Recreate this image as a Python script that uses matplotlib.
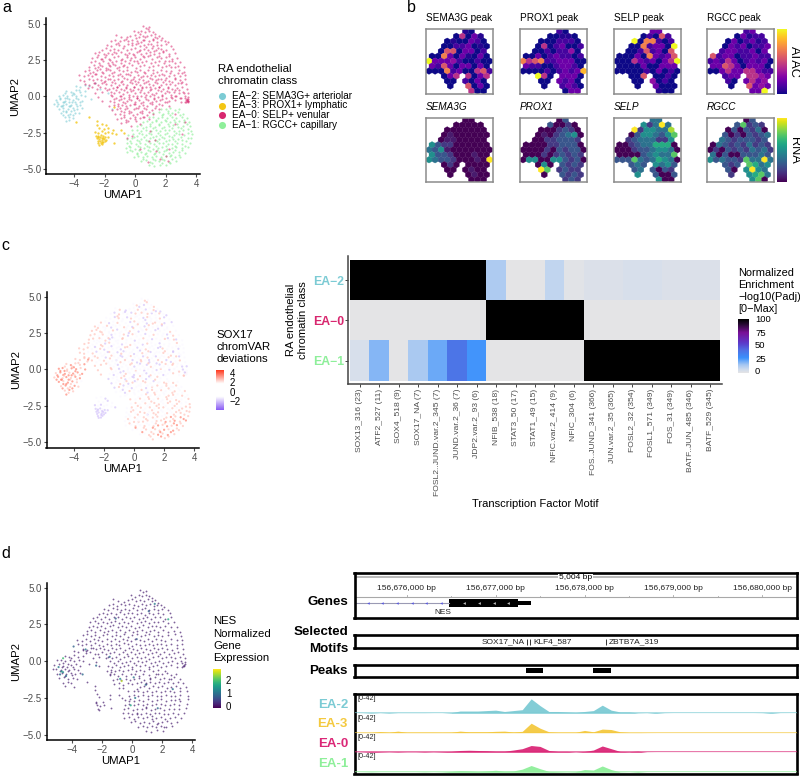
import numpy as np
import matplotlib
matplotlib.use('Agg')
import matplotlib.pyplot as plt
from matplotlib.collections import PolyCollection
from matplotlib.colors import LinearSegmentedColormap, PowerNorm
from matplotlib.patches import Rectangle

plt.rcParams['font.family'] = ['Liberation Sans', 'DejaVu Sans']

W, H = 800, 776

# class colours
c_ea2 = '#7ccbd4'
c_ea3 = '#f3c614'
c_ea0 = '#d8276f'
c_ea1 = '#8eef9a'

# umap points, estimated by eye, row by row
ea0_x = [.5,.72,.92, -.05,.18,.42,.66,.9,1.15,1.32,
 -1.25,-.95,-.55,-.3,-.02,.25,.5,.78,1.05,1.3,1.55,1.75,
 -1.55,-1.3,-1.0,-.72,-.45,-.18,.1,.38,.62,.9,1.18,1.42,1.68,1.95,2.15,
 -1.85,-1.58,-1.28,-1.02,-.75,-.46,-.2,.08,.35,.62,.88,1.15,1.45,1.72,2.0,2.35,
 -2.2,-1.92,-1.66,-1.38,-1.1,-.8,-.55,-.25,.02,.3,.6,.85,1.12,1.4,1.7,2.02,2.5,
 -2.6,-2.34,-2.05,-1.8,-1.52,-1.22,-.95,-.66,-.4,-.12,.15,.42,.7,.98,1.25,1.55,1.85,2.2,2.6,
 -2.8,-2.5,-2.25,-1.95,-1.68,-1.4,-1.12,-.85,-.55,-.28,0.0,.3,.58,.82,1.12,1.42,1.72,2.02,2.4,2.78,
 -2.9,-2.62,-2.35,-2.08,-1.78,-1.5,-1.25,-.95,-.68,-.4,-.1,.18,.45,.75,1.02,1.3,1.58,1.88,2.2,2.6,2.98,
 -3.0,-2.72,-2.45,-2.15,-1.9,-1.62,-1.32,-1.05,-.78,-.5,-.2,.05,.35,.62,.9,1.2,1.48,1.75,2.05,2.35,2.8,3.2,
 -3.3,-3.02,-2.75,-2.48,-2.2,-1.92,-1.65,-1.35,-1.08,-.8,-.52,-.25,.02,.3,.58,.88,1.15,1.42,1.7,2.0,2.35,2.85,3.22,
 -3.65,-3.35,-3.08,-2.8,-2.55,-2.25,-1.98,-1.7,-1.42,-1.15,-.88,-.6,-.32,-.05,.22,.5,.78,1.05,1.32,1.6,1.9,2.2,2.55,2.95,3.3,
 -3.6,-3.32,-3.05,-2.75,-2.5,-2.22,-1.95,-1.65,-1.38,-1.1,-.85,-.55,-.28,0.0,.28,.55,.82,1.1,1.38,1.68,1.95,2.25,2.6,2.98,3.3,
 -3.3,-3.0,-2.72,-2.42,-2.15,-1.88,-1.6,-1.32,-1.05,-.78,-.5,-.22,.05,.32,.6,.9,1.18,1.45,1.72,2.0,2.3,2.65,3.0,3.35,
 -3.1,-2.8,-2.5,-2.0,-1.72,-1.45,-1.18,-.9,-.62,-.35,-.08,.2,.48,.75,1.02,1.3,1.58,1.85,2.15,2.45,2.75,3.05,3.4,
 -2.6,-2.2,-1.6,-1.35,-1.08,-.8,-.52,-.25,.02,.3,.58,.85,1.12,1.4,1.7,1.98,2.25,2.55,2.85,3.15,3.5,3.3,
 -2.4,-1.5,-1.22,-.95,-.7,-.42,-.15,.12,.4,.68,.95,1.22,1.5,1.78,2.05,2.35,2.65,2.95,3.25,3.5,3.42,
 -2.2,-1.62,-1.35,-1.08,-.8,-.55,-.28,0.0,.28,.55,.82,1.1,1.38,1.65,1.95,2.25,2.6,3.0,3.4,3.5,3.32,3.45,
 -1.7,-1.4,-1.12,-.85,-.58,-.3,-.02,.25,.52,.8,1.1,1.4,1.75,2.2,
 -1.5,-1.2,-.92,-.65,-.38,-.1,.18,.45,.75,1.1,1.6,
 -1.3,-1.0,-.72,-.42,-.15,.15,.45,.8,1.2,
 -1.2,-.9,-.6,-.3,0.0,.3,.6,.9,
 -.9,-.6,-.25,.3,
 .9,1.35,.3,2.6,3.1,1.65,-.2,2.15]
ea0_y = [4.85,4.72,4.78, 4.5,4.4,4.52,4.43,4.5,4.42,4.3,
 4.2,4.1,4.05,4.15,4.22,4.1,4.18,4.12,4.2,4.08,4.15,3.98,
 3.82,3.9,3.78,3.88,3.8,3.9,3.84,3.76,3.9,3.82,3.86,3.75,3.85,3.8,3.72,
 3.55,3.48,3.6,3.52,3.46,3.58,3.5,3.6,3.48,3.54,3.6,3.46,3.55,3.5,3.58,3.45,
 3.22,3.3,3.18,3.28,3.2,3.32,3.18,3.26,3.3,3.2,3.28,3.16,3.3,3.22,3.26,3.18,3.25,
 2.95,3.02,2.9,3.0,2.88,2.98,3.04,2.9,3.0,2.92,3.02,2.88,2.96,3.04,2.9,2.98,3.02,2.9,3.0,
 2.65,2.72,2.6,2.7,2.58,2.68,2.74,2.6,2.7,2.62,2.72,2.6,2.68,2.74,2.6,2.7,2.64,2.72,2.58,2.66,
 2.35,2.42,2.3,2.4,2.28,2.38,2.44,2.3,2.4,2.32,2.42,2.28,2.36,2.44,2.3,2.38,2.42,2.3,2.4,2.32,2.36,
 2.05,2.12,2.0,2.1,1.98,2.08,2.14,2.0,2.1,2.02,2.12,1.98,2.06,2.14,2.0,2.08,2.12,2.0,2.1,2.02,2.06,2.0,
 1.75,1.82,1.7,1.8,1.68,1.78,1.84,1.7,1.8,1.72,1.82,1.68,1.76,1.84,1.7,1.78,1.82,1.7,1.8,1.72,1.76,1.82,1.7,
 1.45,1.38,1.5,1.4,1.52,1.42,1.36,1.5,1.4,1.48,1.38,1.52,1.44,1.36,1.5,1.42,1.38,1.5,1.4,1.48,1.44,1.38,1.5,1.42,1.46,
 1.15,1.08,1.2,1.1,1.22,1.12,1.06,1.2,1.1,1.18,1.08,1.22,1.14,1.06,1.2,1.12,1.08,1.2,1.1,1.18,1.14,1.08,1.2,1.12,1.16,
 .85,.78,.9,.8,.92,.82,.76,.9,.8,.88,.78,.92,.84,.76,.9,.82,.78,.9,.8,.88,.84,.78,.9,.82,
 .55,.62,.5,.6,.48,.58,.64,.5,.6,.52,.62,.48,.56,.64,.5,.58,.62,.5,.6,.52,.56,.62,.5,
 .25,.32,.3,.2,.32,.18,.28,.34,.2,.3,.22,.32,.18,.26,.34,.2,.28,.32,.2,.3,.22,-.1,
 -.05,.02,-.1,0.0,-.12,-.02,.04,-.1,0.0,-.08,.02,-.12,-.04,.04,-.1,-.02,.02,-.1,0.0,-.08,-.25,
 -.35,-.3,-.38,-.28,-.4,-.3,-.24,-.38,-.28,-.36,-.26,-.4,-.32,-.24,-.38,-.3,-.26,-.38,-.3,-.22,-.42,-.36,
 -.65,-.6,-.7,-.58,-.68,-.6,-.54,-.68,-.58,-.66,-.56,-.7,-.6,-.66,
 -.95,-.9,-1.0,-.88,-.98,-.9,-.84,-.98,-.88,-.96,-.9,
 -1.25,-1.2,-1.3,-1.18,-1.28,-1.2,-1.14,-1.28,-1.2,
 -1.55,-1.5,-1.6,-1.48,-1.58,-1.5,-1.44,-1.58,
 -1.85,-1.8,-2.05,-1.9,
 -3.1,-3.75,-3.6,-1.2,-2.6,-4.3,-2.7,-4.45]
# deviation digit per point (value minus 2 gives the chromVAR deviation)
ea0_dev = ('232' '2321223' '231223212321' '213221322312321' '2213213221322312'
 '32123221322123211' '3223122321221322122' '33322312232123212232'
 '332321223132212322132' '3322312232212321223212' '33223132212322132212232'
 '3332231222132212322132212' '3323122321322123212232122' '332321322123221321223212'
 '33232213222132122321232' '3322122312213212232212' '332212232122132122123'
 '3212232122132212322' '23212231213212' '32212321322' '322132212' '21322132' '2212' '23212322')

# second pass over the denser parts of the cloud
ea0b_x = [-2.4,-2.15,-1.9,-1.65,-1.45,-1.7,-2.3,-2.65,-2.95,-2.6,-2.3,-2.1,-1.8,-1.5,-1.2,-.95,-.75,-.5,-.35,-.05,.1,.25,.5,.75,.95,1.05,1.25,1.5,1.6,1.85,1.95,2.2,2.25,2.45,2.65,2.8,2.6,2.8,3.05,3.1,2.9,3.2,2.7,3.0,3.35,3.45,3.38,3.3,3.5,
 .05,.35,.65,.85,1.2,1.45,-.2,.2,.5,-.6,-1.1,-1.4,
 -1.0,-.7,-.45,-.15,.1,.4,.65,.95,1.2,1.5,1.75,2.05,2.3,-1.75,-2.05,-1.5,-1.2,-.9,-.6,-.35,-.1,.2,.45,.75,1.0,1.3,1.6,1.85,2.15,2.45,
 -2.3,-2.6,-1.85,-1.55,-1.25,-1.0,-.7,-.4,-.15,.15,.4,.7,.95,1.25,1.5,1.8,2.1,2.35,2.6,
 -1.4,-1.15,-.9,-.65,-.4,-.1,.15,.4,.7,1.0,1.25,1.55,1.8,2.1,2.4,
 -1.0,-.7,-.5,-.25,.05,.3,.6,.9,1.3,0.0,.5,-.45,-.75,.05]
ea0b_y = [2.85,2.55,2.85,2.5,2.2,2.15,2.15,1.95,1.6,1.55,1.9,1.6,1.9,1.6,1.95,2.5,2.15,2.85,2.5,2.85,2.45,3.1,2.75,3.4,2.85,3.6,3.15,3.35,2.8,3.1,2.45,2.8,2.15,2.45,2.05,1.6,1.25,.9,1.6,1.0,.4,.2,.05,-.15,-.28,-.35,-.2,-.42,-.3,
 4.0,4.3,4.05,4.62,3.95,4.0,3.65,3.65,3.9,3.95,3.65,3.05,
 1.55,1.25,1.55,1.2,1.65,1.3,1.6,1.25,1.6,1.2,1.55,1.25,1.6,1.2,.95,.95,.65,.95,.65,.95,.65,.95,.65,.95,.65,.95,.65,.95,.65,.95,
 .65,.9,.4,.1,.4,.05,.4,.1,.42,.05,.4,.08,.42,.1,.42,.12,.38,.1,.4,
 -.2,-.5,-.2,-.45,-.2,-.5,-.15,-.45,-.18,-.48,-.2,-.5,-.18,-.42,-.15,
 -.8,-1.1,-.8,-1.1,-.8,-1.1,-.8,-1.1,-.8,-1.4,-1.4,-1.7,-1.4,-1.7]
ea0b_dev = ('3322133221232122321323212232132212321322212322132'
 '212321223132' '2132212322132123213212321232132'
 '33321223212321232' '322132123212322' '22132123212321')

ea1_x = [1.7,2.0,2.3,2.6,2.9,
 1.2,1.55,1.85,2.15,2.45,2.8,3.15,
 .9,1.2,1.5,1.8,2.1,2.4,2.7,3.05,3.38,
 .5,.8,1.1,1.4,1.7,2.0,2.3,2.6,2.9,3.2,3.55,
 .1,.4,.7,1.0,1.3,1.6,1.9,2.2,2.5,2.8,3.15,3.62,
 -.2,.1,.4,.75,1.05,1.35,1.65,1.95,2.25,2.55,2.85,3.15,3.7,
 -.48,-.15,.15,.45,.75,1.05,1.35,1.65,1.95,2.25,2.55,2.85,3.2,3.72,
 -.5,-.2,.1,.4,.7,1.0,1.3,1.6,1.9,2.2,2.5,2.8,3.1,3.68,
 -.55,-.25,.05,.35,.65,.95,1.25,1.55,1.85,2.15,2.45,2.75,3.1,3.6,
 -.6,-.3,0.0,.3,.6,.9,1.2,1.5,1.8,2.1,2.4,2.7,3.05,3.45,
 -.55,-.2,.1,.4,.7,1.0,1.3,1.6,1.9,2.2,2.5,2.85,3.25,
 -.1,.2,.5,.8,1.1,1.4,1.7,2.0,2.3,2.6,2.98,
 .4,.7,1.0,1.3,1.6,1.9,2.25,2.68,
 .9,1.25,1.65,2.05]
ea1_y = [-.85,-.9,-.82,-.92,-.85,
 -1.15,-1.1,-1.2,-1.12,-1.18,-1.1,-1.2,
 -1.45,-1.4,-1.5,-1.42,-1.48,-1.4,-1.5,-1.44,-1.48,
 -1.75,-1.7,-1.8,-1.72,-1.78,-1.7,-1.8,-1.74,-1.7,-1.8,-1.76,
 -2.05,-2.0,-2.1,-2.02,-2.08,-2.0,-2.1,-2.04,-2.0,-2.1,-2.06,-2.02,
 -2.35,-2.3,-2.4,-2.32,-2.38,-2.3,-2.4,-2.34,-2.3,-2.4,-2.36,-2.32,-2.38,
 -2.65,-2.6,-2.7,-2.62,-2.68,-2.6,-2.7,-2.64,-2.6,-2.7,-2.66,-2.62,-2.68,-2.6,
 -2.95,-2.9,-3.0,-2.92,-2.98,-2.9,-3.0,-2.94,-2.9,-3.0,-2.96,-2.92,-2.98,-2.9,
 -3.25,-3.2,-3.3,-3.22,-3.28,-3.2,-3.3,-3.24,-3.2,-3.3,-3.26,-3.22,-3.28,-3.2,
 -3.55,-3.5,-3.6,-3.52,-3.58,-3.5,-3.6,-3.54,-3.5,-3.6,-3.56,-3.52,-3.58,-3.5,
 -3.85,-3.8,-3.9,-3.82,-3.88,-3.8,-3.9,-3.84,-3.8,-3.9,-3.86,-3.82,-3.88,
 -4.15,-4.1,-4.2,-4.12,-4.18,-4.1,-4.2,-4.14,-4.1,-4.2,-4.16,
 -4.45,-4.4,-4.5,-4.42,-4.48,-4.4,-4.5,-4.44,
 -4.75,-4.8,-4.7,-4.72]
ea1_dev = ('23232' '2323232' '232322323' '23232233232' '232323232323' '2323233232323'
 '23232323323233' '23233233232333' '22323233234343' '22323323343434' '2232323434343' '22232334343' '22334343' '2323')

ea1b_x = [2.15,1.75,2.3,2.95,1.35,1.95,2.55,3.2,.95,1.55,2.15,2.75,3.4,.55,1.15,1.8,2.4,3.0,3.45,.25,.9,1.5,2.1,2.7,3.45,-.05,.6,1.2,1.8,2.4,3.0,3.5,-.35,.25,.85,1.45,2.05,2.65,3.35,-.4,.2,.8,1.4,2.0,2.6,3.3,-.3,.25,.85,1.45,2.05,2.65,3.1,.1,.65,1.25,1.85,2.35,2.85,.55,1.15,1.75,2.45,1.1,1.8,2.3]
ea1b_y = [-.98,-1.3,-1.3,-1.3,-1.6,-1.6,-1.6,-1.6,-1.9,-1.9,-1.9,-1.9,-1.9,-2.2,-2.2,-2.2,-2.2,-2.2,-2.25,-2.5,-2.5,-2.5,-2.5,-2.5,-2.55,-2.8,-2.8,-2.8,-2.8,-2.8,-2.8,-2.85,-3.1,-3.1,-3.1,-3.1,-3.1,-3.1,-3.1,-3.4,-3.4,-3.4,-3.4,-3.4,-3.4,-3.4,-3.7,-3.7,-3.7,-3.7,-3.7,-3.7,-3.7,-4.0,-4.0,-4.0,-4.0,-4.05,-4.05,-4.3,-4.3,-4.3,-4.3,-4.6,-4.6,-4.6]
ea1b_dev = '323232323232223233232323332322332323233323233432233434342234344343'

ea2_x = [-3.9,-3.6,-3.3,-3.05, -4.5,-4.2,-3.9,-3.6,-3.3,
 -5,-4.75,-4.45,-4.15,-3.85,-3.55,-3.25, -5.2,-4.9,-4.6,-4.3,-4.05,-3.75,-3.45,
 -5.3,-5.05,-4.75,-4.5,-4.2,-3.9,-3.6, -5.0,-4.7,-4.4,-4.1,-3.8,-3.5,
 -4.85,-4.55,-4.25,-3.95,-3.7, -4.6,-4.3,-4.05, -4.5,
 -4.35,-4.62,-4.1,-4.8,-3.95,-4.5,-4.25,-4.7,-4.0]
ea2_y = [.72,.65,.78,.68, .38,.3,.42,.32,.36,
 .05,.1,0.0,.08,.02,.1,0.0, -.25,-.2,-.3,-.22,-.28,-.2,-.3,
 -.55,-.5,-.6,-.52,-.58,-.5,-.6, -.85,-.8,-.9,-.82,-.88,-.8,
 -1.15,-1.1,-1.2,-1.12,-1.18, -1.45,-1.4,-1.5, -1.72,
 -.4,-.1,.2,-.7,-.4,-1.0,-.7,-.38,-.95]
ea2_dev = '333434334 4434434344 34443434344 434432 34343 343 4 44343434'.replace(' ', '')

ea2b_x = [-4.6,-4.0,-3.7,-4.9,-4.45,-3.9,-5.1,-4.65,-4.15,-3.6,-5.15,-4.85,-4.35,-3.8,-4.7,-4.2,-4.75,-4.4,-4.1,-4.35]
ea2b_y = [.2,.15,.45,-.1,-.1,-.12,-.4,-.42,-.4,-.38,-.7,-.7,-.7,-.68,-1.0,-1.0,-1.3,-1.3,-1.3,-1.6]
ea2b_dev = '34343443434443434343'

ea3_x = [-2.5,-2.2,-1.9,-2.35,-2.05,-1.75,-1.45,-2.6,-2.4,-2.2,-2.0,-1.8,-1.5,-1.25,
 -2.55,-2.4,-2.25,-2.1,-1.95,-1.75,-2.5,-2.35,-2.2,-2.05,-1.9,-2.45,-2.3,-2.15,-2.0,-2.4,-2.25,-2.1,
 -2.35,-2.2,-2.28,-2.12,-2.42,-2.18]
ea3_y = [-1.95,-1.9,-2.0,-2.2,-2.25,-2.15,-2.3,-2.45,-2.5,-2.42,-2.52,-2.45,-2.55,-2.6,
 -2.7,-2.75,-2.68,-2.72,-2.78,-2.8,-2.9,-2.95,-2.88,-2.92,-2.98,-3.05,-3.1,-3.02,-3.08,-3.2,-3.25,-3.18,
 -3.32,-3.3,-2.82,-2.85,-2.82,-3.12]
ea3_dev = '22122121212221 111211 11211 1211 121 11 2111'.replace(' ', '')

# stray points of a few classes away from their cluster
stray0_x = [1.3,2.6,3.3,.85,2.2,-.5,1.0,2.0]
stray0_y = [-3.0,-1.9,-1.8,-4.5,-3.6,-2.9,-2.4,-4.1]
stray2_x = [-2.6,-2.3,-2.9,-1.5,-1.75]
stray2_y = [.9,.5,-.2,-.9,.25]
stray3_x = [-3.0,-3.9,-2.5,-1.4,-.9,-.7,-1.4]
stray3_y = [-1.4,-1.75,-1.7,-.75,-2.3,-2.5,-3.2]

# nes expression, points where it is clearly above zero
nes_x = [-4.9,-4.6,-4.8,-4.4,-3.9,-4.6,-3.1,-2.4,-1.1,-.7,-.8,.1,.9,1.5,2.4,1.7,-.1,.2,1.1,2.7,-4.7,-3.3,.3,-1.5]
nes_y = [-.4,.2,-.9,-1.0,1.0,-.75,.8,-.3,2.9,-1.35,-1.2,-1.1,-1.6,3.9,2.85,-3.2,-3.0,-2.5,3.4,-1.9,-.7,-.9,1.5,.3]
nes_v = [1.2,2.0,1.0,1.1,.9,1.3,1.2,1.0,.9,2.6,1.4,1.1,1.0,1.2,1.8,1.0,1.7,1.2,.9,1.1,1.6,1.0,.8,1.0]

# hex tiles: the cells present in each row (double width column index)
hex_cols = [[12,14], [9,11,13,15,17], [6,8,10,12,14,16,18],
 [5,7,9,11,13,15,17,19], [4,6,8,10,12,14,16,18],
 [1,3,5,7,9,11,13,15,17,19], [0,2,4,6,8,10,12,14,16,18,20],
 [1,3,5,7,9,11,13,15,17,19], [0,2,4,6,8,10,12,14,16,18,20],
 [5,7,9,13,15,17,19], [6,8,12,14,16,18], [7,13,15,17,19], [14,16,18]]

# tile values per row, 0 to 9
atac_sema3g = ['10','05031','0100320','00223010','06603302','0073031030','93334200200',
 '3263033030','00072300562','0355035','002030','06030','500']
atac_prox1 = ['20','00110','0002220','05023002','00202240','0030232202','75672233300',
 '3220023320','00002023238','9503330','003230','02320','033']
atac_selp = ['33','02062','9077202','00723309','00262306','0003073236','00053230359',
 '0000300333','00000203020','0060020','004020','03000','100']
atac_rgcc = ['23','03122','0302312','03230223','23322303','6233022322','23253023230',
 '3365303330','00353355322','2335543','203534','06343','339']
rna_sema3g = ['00','00000','0000000','01000000','01100000','5322000000','43510000000',
 '5332000100','54332000109','0200000','000100','00100','000']
rna_prox1 = ['03','30020','0002320','01023450','00223332','0000223330','00002032330',
 '0002023232','05500553230','0503232','972322','03232','232']
rna_selp = ['44','52494','9255448','03554357','23444225','0023446660','00023345540',
 '0000345447','33374346540','3435453','343032','53003','500']
rna_rgcc = ['03','37232','0303240','30203234','43233323','0432324232','02032324342',
 '4030033343','53433274494','3237645','305954','25674','570']

# heatmap
motifs = ['SOX13_316 (23)', 'ATF2_527 (11)', 'SOX4_518 (9)', 'SOX17_NA (7)', 'FOSL2..JUND.var.2_345 (7)',
 'JUND.var.2_36 (7)', 'JDP2.var.2_93 (6)', 'NFIB_538 (18)', 'STAT3_50 (17)', 'STAT1_49 (15)',
 'NFIC.var.2_414 (9)', 'NFIC_304 (6)', 'FOS..JUND_341 (366)', 'JUN.var.2_35 (365)', 'FOSL2_32 (354)',
 'FOSL1_571 (349)', 'FOS_31 (349)', 'BATF..JUN_485 (346)', 'BATF_529 (345)']
classes = ['EA\u22122', 'EA\u22120', 'EA\u22121']
enrich_ea2 = [100,100,100,100,100,100,100,13,0,0,9,1,3,3,4,4,3,3,3]
enrich_ea0 = [0,0,0,0,0,0,0,100,100,100,100,100,0,0,0,0,0,0,0]
enrich_ea1 = [4,19,0,14,22,40,27,0,0,0,0,0,100,100,100,100,100,100,100]

# genome tracks, 100 bp bins starting at 156675400
track_ea2 = [0,.5,1.5,.5,1.5,.5,.5,.5,.5,.3,.3,1.5,5,5,5,6,7,4,6,8,32,17,4,4,3,2,4,6,18,7,3,3,1,.5,2,.5,.2,.2,.2,.2,.2,.2,.2,.2,.2,.2,.5,2,.3,.2,.2]
track_ea3 = [0,.3,.5,2.5,1,3.5,1,1,1,1,.8,1,3.5,2,2,2,3,3.5,1.5,3,21,10,2,1,1,1,5,2,8,7,2,.5,.5,.3,.2,.2,.2,.2,.2,.2,.2,.2,.2,.2,.2,.2,.2,.2,.2,.2,.2]
track_ea0 = [.5,1,2,1.5,1,1.5,1,1,1.5,1,1.5,2,4,4.5,4,3.5,2.5,2.5,5,8,15,13,4,2,2,1,2,5,14,8,2,1.5,2.5,.4,.2,.2,.2,.2,.2,.2,.2,.2,.2,.2,.2,.2,.2,.2,.2,.2,.2]
track_ea1 = [.2,.5,1,.5,.5,.5,.5,.5,1,.5,1,2,3.5,3,2,3,4.5,2.5,3,7,15,8,2,1.5,1,1.5,6,5,14,6,1,.5,1.5,.3,.2,.2,.2,.2,.2,.2,.2,.2,.2,.2,.2,.2,.2,.2,.2,.2,.2]
track_names = ['EA-2', 'EA-3', 'EA-0', 'EA-1']
track_colors = ['#7ccbd4', '#f4c93f', '#db2777', '#8eef9a']
genome_ticks = [156676000, 156677000, 156678000, 156679000, 156680000]
gene_intron_marks = [156675560, 156675725, 156675890, 156676055, 156676220, 156676385]
gene_exon_marks = [156676650, 156676815, 156676985, 156677145]
peak_starts = [156677339, 156678092]
peak_ends = [156677537, 156678295]
motif_marks = [156677357, 156677385, 156678243]


fig = plt.figure(figsize=(W / 100, H / 100), dpi=100)


def px_axes(left, top, right, bottom, **kw):
    return fig.add_axes([left / W, 1 - bottom / H, (right - left) / W, (bottom - top) / H], **kw)


ov = px_axes(0, 0, W, H)
ov.set_xlim(0, W)
ov.set_ylim(H, 0)
ov.axis('off')
ov.set_zorder(10)


def txt(x, y, s, size=8, ha='left', va='center', **kw):
    ov.text(x, y, s, fontsize=size, ha=ha, va=va, **kw)


def umap_axes(left, top, right, bottom, xlim, ylim):
    ax = px_axes(left, top, right, bottom)
    ax.set_xlim(xlim)
    ax.set_ylim(ylim)
    ax.spines['top'].set_visible(False)
    ax.spines['right'].set_visible(False)
    ax.spines['left'].set_linewidth(1.1)
    ax.spines['bottom'].set_linewidth(1.1)
    ax.set_xticks([-4, -2, 0, 2, 4])
    ax.set_xticklabels(['\u22124', '\u22122', '0', '2', '4'])
    ax.set_yticks([-5, -2.5, 0, 2.5, 5])
    ax.set_yticklabels(['\u22125.0', '\u22122.5', '0.0', '2.5', '5.0'])
    ax.tick_params(labelsize=7, length=2, width=.8, colors='#4d4d4d', pad=1.5)
    ax.set_xlabel('UMAP1', fontsize=8.2, labelpad=1)
    ax.set_ylabel('UMAP2', fontsize=8.2, labelpad=1)
    return ax


# panel a
ax_a = umap_axes(46, 18, 200, 174, (-5.84, 4.26), (-5.35, 5.39))
ax_a.scatter(ea2_x + ea2b_x + stray2_x, ea2_y + ea2b_y + stray2_y, s=2.4, c=c_ea2, alpha=.6, lw=0)
ax_a.scatter(ea3_x + stray3_x, ea3_y + stray3_y, s=2.8, c=c_ea3, alpha=.8, lw=0)
ax_a.scatter(ea1_x + ea1b_x, ea1_y + ea1b_y, s=2.4, c=c_ea1, alpha=.65, lw=0)
n0 = min(len(ea0_x), len(ea0_y))
nb = min(len(ea0b_x), len(ea0b_y))
ax_a.scatter(ea0_x[:n0] + ea0b_x[:nb] + stray0_x, ea0_y[:n0] + ea0b_y[:nb] + stray0_y, s=2.4, c=c_ea0, alpha=.55, lw=0)

txt(218, 68.5, 'RA endothelial', 8.2)
txt(218, 81, 'chromatin class', 8.2)
legend_labels = ['EA\u22122: SEMA3G+ arteriolar', 'EA\u22123: PROX1+ lymphatic', 'EA\u22120: SELP+ venular', 'EA\u22121: RGCC+ capillary']
legend_colors = [c_ea2, c_ea3, c_ea0, c_ea1]
legend_y = [96, 105.5, 115, 124.5]
for yy, lab, col in zip(legend_y, legend_labels, legend_colors):
    ov.scatter([222], [yy], s=26, c=col, lw=0)
    txt(231.7, yy, lab, 7.2)

# panel b
hex_panels = [
    (426, 29.3, atac_sema3g, 'plasma', 'SEMA3G peak', 'normal'),
    (520, 29.3, atac_prox1, 'plasma', 'PROX1 peak', 'normal'),
    (613.5, 29.3, atac_selp, 'plasma', 'SELP peak', 'normal'),
    (707, 29.3, atac_rgcc, 'plasma', 'RGCC peak', 'normal'),
    (426, 118, rna_sema3g, 'viridis', 'SEMA3G', 'italic'),
    (520, 118, rna_prox1, 'viridis', 'PROX1', 'italic'),
    (613.5, 118, rna_selp, 'viridis', 'SELP', 'italic'),
    (707, 118, rna_rgcc, 'viridis', 'RGCC', 'italic'),
]
for left, top, rows, cmap, title, style_ in hex_panels:
    ax = px_axes(left, top, left + 67, top + 64.4)
    verts = []
    vals = []
    for r, (cols, row) in enumerate(zip(hex_cols, rows)):
        for col, ch in zip(cols, row):
            cx = 3 + 3.035 * col
            cy = 2 + 4.97 * r
            verts.append([(cx, cy - 3.31), (cx + 3.035, cy - 1.66), (cx + 3.035, cy + 1.66),
                          (cx, cy + 3.31), (cx - 3.035, cy + 1.66), (cx - 3.035, cy - 1.66)])
            vals.append(int(ch))
    gamma = 1.45 if cmap == 'plasma' else 1.2
    pc = PolyCollection(verts, array=np.array(vals), cmap=cmap, edgecolors='face', linewidths=.2,
                        norm=PowerNorm(gamma, vmin=0, vmax=9))
    ax.add_collection(pc)
    ax.set_xlim(0, 67)
    ax.set_ylim(64.4, 0)
    ax.set_xticks([])
    ax.set_yticks([])
    for sp in ax.spines.values():
        sp.set_color('#8c8c8c')
        sp.set_linewidth(1.1)
    txt(left, top - 11.5, title, 7.2, style=style_)

grad = np.linspace(1, 0, 128).reshape(-1, 1)
for top, bottom, cmap, name in [(29, 94, 'plasma', 'ATAC'), (118, 182, 'viridis', 'RNA')]:
    cb = px_axes(777, top, 787, bottom)
    cb.imshow(grad, aspect='auto', cmap=cmap)
    cb.axis('off')
    txt(794, (top + bottom) / 2, name, 9.2, ha='center', rotation=270)

# panel c umap
dev_cmap = LinearSegmentedColormap.from_list('dev', ['#8a5cf5', '#ffffff', '#ff3a1f'])
ax_c = umap_axes(46.5, 291.7, 199, 448, (-5.82, 4.32), (-5.39, 5.34))
for xs, ys, devs in [(ea0_x, ea0_y, ea0_dev), (ea0b_x, ea0b_y, ea0b_dev), (ea1_x, ea1_y, ea1_dev), (ea1b_x, ea1b_y, ea1b_dev),
                     (ea2_x, ea2_y, ea2_dev), (ea2b_x, ea2b_y, ea2b_dev), (ea3_x, ea3_y, ea3_dev)]:
    n = min(len(xs), len(ys))
    dv = [int(ch) - 2 for ch in devs.ljust(n, '2')[:n]]
    ax_c.scatter(xs[:n], ys[:n], s=2.6, c=dv, cmap=dev_cmap, vmin=-3, vmax=3.2, alpha=.7, lw=0)

txt(216.5, 335, 'SOX17', 8.2)
txt(216.5, 347, 'chromVAR', 8.2)
txt(216.5, 359, 'deviations', 8.2)
cb = px_axes(216, 370, 224, 410)
cb.imshow(grad, aspect='auto', cmap=LinearSegmentedColormap.from_list('dev2', ['#8a5cf5', '#ffffff', '#ffffff', '#ff3a1f']))
cb.axis('off')
for yy, lab in [(374, '4'), (383.5, '2'), (392.5, '0'), (402, '\u22122')]:
    txt(230, yy, lab, 7)

# panel c heatmap
enrich_cmap = LinearSegmentedColormap.from_list('enrich', [
    (0, '#e4e4e6'), (.06, '#d0dced'), (.15, '#a4c6f2'), (.28, '#3a90fc'), (.42, '#4f70e4'),
    (.55, '#5a3ccc'), (.75, '#7a0f98'), (.9, '#2a0a36'), (1, '#000000')])
cell_w = 370 / 19
cell_h = 120.7 / 3
ax_h = px_axes(348, 256, 721.7, 384)
matrix = np.array([enrich_ea2, enrich_ea0, enrich_ea1])
ax_h.pcolormesh(np.arange(20), np.arange(4), matrix, cmap=enrich_cmap, vmin=0, vmax=100)
ax_h.set_xlim(-2 / cell_w, 19 + 1.7 / cell_w)
ax_h.set_ylim(3 + 3.3 / cell_h, -4 / cell_h)
ax_h.spines['top'].set_visible(False)
ax_h.spines['right'].set_visible(False)
ax_h.spines['left'].set_color('#444444')
ax_h.spines['bottom'].set_color('#444444')
ax_h.spines['left'].set_linewidth(1.1)
ax_h.spines['bottom'].set_linewidth(1.1)
ax_h.set_xticks(np.arange(19) + .5)
ax_h.set_xticklabels(motifs, rotation=90, fontsize=6.1, color='#4d4d4d')
ax_h.set_yticks(np.arange(3) + .5)
ax_h.set_yticklabels(classes, fontsize=8.8, fontweight='bold')
for lab, col in zip(ax_h.get_yticklabels(), [c_ea2, c_ea0, c_ea1]):
    lab.set_color(col)
ax_h.tick_params(axis='x', length=2, width=.7, color='#444444', pad=1.5)
ax_h.tick_params(axis='y', length=2, width=.7, color='#444444', pad=1)
txt(291, 320, 'RA endothelial', 8, ha='center', rotation=90)
txt(303.5, 320, 'chromatin class', 8, ha='center', rotation=90)
txt(535, 504, 'Transcription Factor Motif', 8, ha='center')
for yy, lab in [(273, 'Normalized'), (285, 'Enrichment'), (297, '\u2212log10(Padj)'), (309, '[0\u2212Max]')]:
    txt(738.3, yy, lab, 7.9)
cb = px_axes(738.3, 319, 749, 372.7)
cb.imshow(grad, aspect='auto', cmap=enrich_cmap)
cb.axis('off')
for yy, lab in [(319.5, '100'), (333, '75'), (346, '50'), (359, '25'), (372, '0')]:
    txt(755, yy, lab, 6.8)

# panel d umap
ax_d = umap_axes(46.7, 583, 195, 740, (-5.69, 4.18), (-5.36, 5.32))
all_x = ea0_x[:n0] + ea1_x + ea2_x + ea3_x[::3] + stray2_x + stray3_x
all_y = ea0_y[:n0] + ea1_y + ea2_y + ea3_y[::3] + stray2_y + stray3_y
ax_d.scatter(all_x, all_y, s=1.7, c='#481f70', alpha=.7, lw=0)
ax_d.scatter(nes_x, nes_y, s=2.4, c=nes_v, cmap='viridis', vmin=0, vmax=2.9, alpha=.8, lw=0)
for yy, lab in [(621, 'NES'), (634, 'Normalized'), (646, 'Gene'), (658, 'Expression')]:
    txt(213, yy, lab, 8.2)
cb = px_axes(212.5, 669, 220, 708)
cb.imshow(grad, aspect='auto', cmap='viridis')
cb.axis('off')
for yy, lab in [(680.7, '2'), (694, '1'), (707, '0')]:
    txt(226, yy, lab, 7)

# panel d tracks
bp_per_px = 1000 / 88.9
box_l, box_r = 354.5, 796.8
bp_lim = (156676000 + (box_l - 406.7) * bp_per_px, 156676000 + (box_r - 406.7) * bp_per_px)


def track_box(top, bottom):
    ax = px_axes(box_l, top, box_r, bottom)
    ax.set_xlim(bp_lim)
    ax.set_ylim(bottom, top)
    ax.set_xticks([])
    ax.set_yticks([])
    for sp in ax.spines.values():
        sp.set_linewidth(1.9)
    return ax


ax_g = track_box(573, 618)
ax_g.plot(bp_lim, [577.2, 577.2], color='#a8a8a8', lw=1.1)
ax_g.text(156677900, 578, '5,004 bp', fontsize=6, ha='center', va='center',
          bbox=dict(fc='white', ec='none', pad=.4))
ax_g.plot(bp_lim, [597.3, 597.3], color='#a8a8a8', lw=.8)
for t in genome_ticks:
    ax_g.text(t, 588.7, format(t, ',') + ' bp', fontsize=6, ha='center', va='center', color='#222222')
    ax_g.plot([t, t], [595, 597.3], color='#a8a8a8', lw=.6)
    ax_g.plot([t + 500, t + 500], [596, 597.3], color='#a8a8a8', lw=.6)
ax_g.plot([bp_lim[0], 156676479], [602.7, 602.7], color='#9a9ab4', lw=.8)
ax_g.plot(gene_intron_marks, [602.7] * len(gene_intron_marks), ls='', marker='<', ms=1.8, color='#5a5ae0', mew=0)
ax_g.add_patch(Rectangle((156676479, 599.3), 776, 7.4, fc='black', ec='none'))
ax_g.add_patch(Rectangle((156677255, 600.8), 143, 4, fc='black', ec='none'))
ax_g.plot(gene_exon_marks, [603] * len(gene_exon_marks), ls='', marker='<', ms=2, color='#bbbbbb', mew=0)
ax_g.text(156676410, 612.7, 'NES', fontsize=6, ha='center', va='center', color='#222222')

ax_m = track_box(635, 648)
ax_m.vlines(motif_marks, 638.5, 644.5, color='#333333', lw=.7)
ax_m.text(156677330, 641.5, 'SOX17_NA', fontsize=6, ha='right', va='center', color='#222222')
ax_m.text(156677420, 641.5, 'KLF4_587', fontsize=6, ha='left', va='center', color='#222222')
ax_m.text(156678270, 641.5, 'ZBTB7A_319', fontsize=6, ha='left', va='center', color='#222222')

ax_p = track_box(664.5, 677)
for s, e in zip(peak_starts, peak_ends):
    ax_p.add_patch(Rectangle((s, 668.3), e - s, 5, fc='black', ec='none'))

ax_s = track_box(694, 773.5)
ax_s.patch.set_alpha(0)
track_bp = 156675400 + 100 * np.arange(51)
baselines = [713.3, 732.7, 752.3, 772.3]
for base, vals, col, name, label_y, range_y in zip(baselines, [track_ea2, track_ea3, track_ea0, track_ea1], track_colors,
        track_names, [705, 724.3, 744.3, 764.3], [699, 718.3, 737.7, 757]):
    ax_t = px_axes(box_l, base - 19, box_r, base)
    ax_t.set_xlim(bp_lim)
    ax_t.set_ylim(0, 42)
    ax_t.axis('off')
    ax_t.fill_between(track_bp, vals, 0, color=col, lw=0, alpha=.95)
    ax_t.axhline(.3, color=col, lw=1.1, alpha=.8)
    txt(357, range_y, '[0-42]', 5.2, color='#222222')
    txt(348, label_y, name, 9.5, ha='right', fontweight='bold', color=col)

for yy, lab in [(601.7, 'Genes'), (632.3, 'Selected'), (649.3, 'Motifs'), (671, 'Peaks')]:
    txt(348, yy, lab, 9.6, ha='right', fontweight='bold')

# panel letters
txt(2, 8, 'a', 11.5)
txt(407, 7, 'b', 11.5)
txt(1, 246, 'c', 11.5)
txt(1, 553, 'd', 11.5)

fig.savefig('out.png', dpi=100)
